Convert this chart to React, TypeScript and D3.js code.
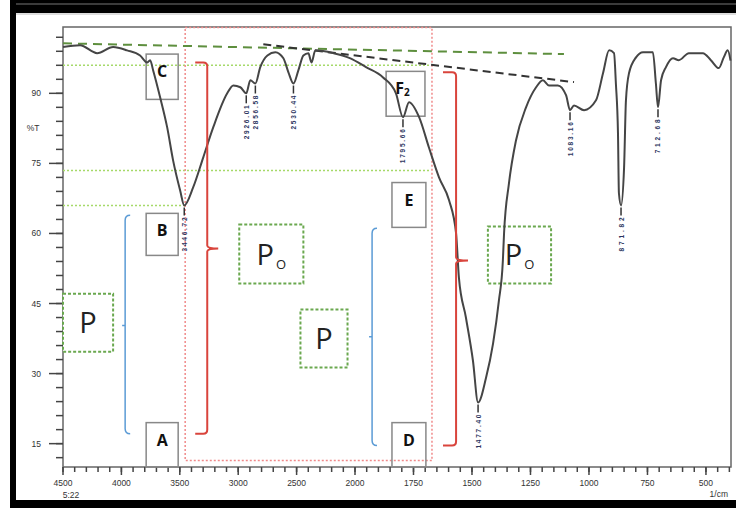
import * as d3 from "d3";

// FTIR spectrum: wavenumber (1/cm) and transmittance (%T)
const waves = [
  4500, 4354, 4208, 4071, 3951, 3840, 3780, 3754, 3728, 3668, 3608, 3557, 3497, 3462,
  3385, 3299, 3214, 3094, 3042, 2982, 2931, 2896, 2853, 2811, 2750, 2682, 2613, 2570,
  2527, 2485, 2442, 2399, 2373, 2339, 2184, 2039, 1953, 1880, 1825, 1795, 1769, 1726,
  1684, 1641, 1598, 1568, 1556, 1526, 1496, 1474, 1440, 1410, 1385, 1368, 1363, 1342,
  1312, 1269, 1226, 1197, 1171, 1133, 1098, 1081, 1064, 1021, 970, 940, 914, 893, 885,
  876, 872, 863, 850, 842, 829, 799, 769, 727, 714, 705, 692, 671, 641, 616, 573, 513,
  479, 445, 424, 407, 395,
];
const trans = [
  99.9, 100.3, 98.6, 99.9, 99.2, 98.1, 96.6, 97.1, 94.9, 89.1, 82.7, 75.6, 69.2, 66.0,
  69.9, 76.3, 82.7, 90.0, 91.7, 91.3, 90.0, 92.8, 92.1, 95.6, 98.1, 98.8, 97.5, 94.5,
  92.1, 94.9, 98.1, 98.6, 96.6, 99.2, 98.6, 97.5, 95.6, 93.4, 90.0, 84.9, 88.1, 84.9,
  78.4, 72.0, 67.1, 60.0, 50.6, 42.0, 32.8, 23.8, 29.1, 36.4, 45.6, 54.2, 60.0, 70.7,
  79.9, 87.0, 91.3, 92.8, 91.7, 91.7, 89.6, 86.4, 87.4, 86.4, 88.5, 94.3, 99.2, 98.6, 92.1,
  81.4, 68.6, 66.0, 74.1, 88.5, 94.3, 97.7, 98.8, 98.8, 92.1, 87.0, 92.8, 95.6, 97.5, 97.1, 98.6,
  98.6, 97.1, 95.4, 97.7, 99.2, 97.0,
];

// picked peaks
const peakWaves = [3462, 2931, 2853, 2527, 1795, 1474, 1081, 863, 705];
const peakLabels = ["3446.72", "2926.01", "2856.58", "2530.44", "1795.66", "1477.40", "1083.16", "871.82", "712.68"];

// axis ticks
const xMajor = [4500, 4000, 3500, 3000, 2500, 2000, 1750, 1500, 1250, 1000, 750, 500];
const yMajor = [15, 30, 45, 60, 75, 90];

// annotations (in wavenumber / %T units)
const letterBoxes = [
  { label: "C", w0: 3788, w1: 3514, t0: 98.4, t1: 88.7 },
  { label: "B", w0: 3788, w1: 3514, t0: 64.3, t1: 55.3 },
  { label: "A", w0: 3788, w1: 3514, t0: 19.5, t1: 10 },
  { label: "F", sub: "2", w0: 1867, w1: 1701, t0: 94.7, t1: 85.1 },
  { label: "E", w0: 1842, w1: 1697, t0: 70.9, t1: 61.3 },
  { label: "D", w0: 1842, w1: 1697, t0: 19.5, t1: 10 },
];
const pBoxes = [
  { label: "P", sub: "", w0: 4500, w1: 4071, t0: 47.1, t1: 34.7 },
  { label: "P", sub: "O", w0: 2991, w1: 2442, t0: 61.9, t1: 49.3 },
  { label: "P", sub: "", w0: 2467, w1: 2064, t0: 43.7, t1: 31.3 },
  { label: "P", sub: "O", w0: 1432, w1: 1162, t0: 61.5, t1: 49.3 },
];
const guideLevels = [
  { t: 96.0, w1: 1675 },
  { t: 73.5, w1: 1675 },
  { t: 66.0, w1: 3462 },
];
const redBraces = [
  { w0: 3368, wv: 3265, wn: 3171, t0: 96.6, tm: 56.8, t1: 17.1 },
  { w0: 1624, wv: 1568, wn: 1517, t0: 94.5, tm: 54.2, t1: 14.6 },
];
const blueBraces = [
  { wv: 3968, w1: 3925, t0: 63.9, tm: 40.3, t1: 17.1 },
  { wv: 1927, w1: 1906, t0: 61.1, tm: 37.9, t1: 14.6 },
];

export default function App() {
  const width = 736;
  const height = 508;

  // the instrument squeezes the scale above 2000 1/cm
  const x = d3.scaleLinear().domain([4500, 2000, 393]).range([63, 355, 731]);
  const y = d3.scaleLinear().domain([10, 104.2]).range([467, 27]);

  const pts = waves.map((w, i) => [w, trans[i]]);
  const line = d3
    .line()
    .x((d) => x(d[0]))
    .y((d) => y(d[1]))
    .curve(d3.curveMonotoneX);

  const xMinor = [...d3.range(4500, 2000, -100), ...d3.range(2000, 393, -50)];
  const yMinor = d3.range(12, 104, 3);

  const font = "'Liberation Sans', Arial, sans-serif";
  const bigFont = "'Open Sans', 'Noto Sans', sans-serif";

  const nearest = (w) => d3.minIndex(waves, (v) => Math.abs(v - w));

  const bracePathRed = (b) => {
    const x0 = x(b.w0), xv = x(b.wv), xn = x(b.wn);
    const y0 = y(b.t0), ym = y(b.tm), y1 = y(b.t1);
    return `M${x0},${y0} H${xv - 4} Q${xv},${y0} ${xv},${y0 + 4} V${ym - 3} Q${xv},${ym} ${xn},${ym} M${xv},${ym + 3} Q${xv},${ym} ${xn},${ym} M${xv},${ym + 3} V${y1 - 4} Q${xv},${y1} ${xv - 4},${y1} H${x0}`;
  };
  const bracePathBlue = (b) => {
    const xv = x(b.wv), x1 = x(b.w1);
    const y0 = y(b.t0), ym = y(b.tm), y1 = y(b.t1);
    return `M${x1},${y0} Q${xv},${y0} ${xv},${y0 + 5} V${y1 - 5} Q${xv},${y1} ${x1},${y1} M${xv},${ym} h-3`;
  };

  return (
    <svg
      width={width}
      height={height}
      style={{ position: "absolute", left: 0, top: 0, background: "#fff" }}
    >
      {/* outer frame */}
      <rect x={10} y={0} width={726} height={13} fill="#000" />
      <line x1={10} x2={736} y1={4} y2={4} stroke="#777" strokeWidth={1} />
      <rect x={10} y={0} width={6} height={508} fill="#000" />
      <rect x={10} y={500} width={726} height={8} fill="#000" />
      <line x1={16} x2={736} y1={14} y2={14} stroke="#bbb" strokeWidth={1} />

      {/* plot border */}
      <rect x={63} y={27} width={668} height={440} fill="none" stroke="#666" strokeWidth={1.5} />

      {/* y axis */}
      {yMinor.map((t) => (
        <line key={"ym" + t} x1={56} x2={63} y1={y(t)} y2={y(t)} stroke="#444" strokeWidth={1.5} />
      ))}
      {yMajor.map((t) => (
        <g key={"yM" + t}>
          <line x1={49} x2={63} y1={y(t)} y2={y(t)} stroke="#444" strokeWidth={1.5} />
          <text x={41} y={y(t) + 3} fontSize={8.5} fontFamily={font} fill="#333" textAnchor="end">
            {t}
          </text>
        </g>
      ))}
      <text x={33} y={131} fontSize={8.5} fontFamily={font} fill="#333" textAnchor="middle">
        %T
      </text>

      {/* x axis */}
      {xMinor.map((w) => (
        <line key={"xm" + w} x1={x(w)} x2={x(w)} y1={467} y2={472} stroke="#444" strokeWidth={1.5} />
      ))}
      {xMajor.map((w) => (
        <g key={"xM" + w}>
          <line x1={x(w)} x2={x(w)} y1={467} y2={475} stroke="#444" strokeWidth={1.5} />
          <text x={x(w)} y={486} fontSize={8.5} fontFamily={font} fill="#333" textAnchor="middle">
            {w}
          </text>
        </g>
      ))}
      <text x={71} y={498} fontSize={8.5} fontFamily={font} fill="#333" textAnchor="middle">
        5:22
      </text>
      <text x={728} y={497} fontSize={8.5} fontFamily={font} fill="#333" textAnchor="end">
        1/cm
      </text>

      {/* light green guide levels */}
      {guideLevels.map((g, i) => (
        <line
          key={"g" + i}
          x1={x(4500)}
          x2={x(g.w1)}
          y1={y(g.t)}
          y2={y(g.t)}
          stroke="#a6d96a"
          strokeWidth={1.5}
          strokeDasharray="2 2"
        />
      ))}

      {/* red dotted region */}
      <rect
        x={x(3454)}
        y={y(104.1)}
        width={x(1671) - x(3454)}
        height={y(11.4) - y(104.1)}
        fill="none"
        stroke="#f08a8a"
        strokeWidth={1.5}
        strokeDasharray="2 2"
      />

      {/* baselines */}
      <line
        x1={x(4500)} y1={y(100.7)} x2={x(1107)} y2={y(98.4)}
        stroke="#5e8f3e" strokeWidth={2} strokeDasharray="9 6"
      />
      <line
        x1={x(2785)} y1={y(100.5)} x2={x(1064)} y2={y(92.4)}
        stroke="#333" strokeWidth={2} strokeDasharray="8 5"
      />

      {/* gray letter boxes */}
      {letterBoxes.map((b) => {
        const cx = (x(b.w0) + x(b.w1)) / 2;
        return (
          <g key={b.label}>
            <rect
              x={x(b.w0)}
              y={y(b.t0)}
              width={x(b.w1) - x(b.w0)}
              height={y(b.t1) - y(b.t0)}
              fill="none"
              stroke="#888"
              strokeWidth={1.5}
            />
            <text
              x={b.sub ? cx - 3 : cx}
              y={y(b.t0) + 23}
              fontSize={16}
              fontWeight="bold"
              fontFamily={bigFont}
              fill="#111"
              textAnchor="middle"
            >
              {b.label}
              {b.sub ? (
                <tspan fontSize={10} dy={2}>
                  {b.sub}
                </tspan>
              ) : null}
            </text>
          </g>
        );
      })}

      {/* green dotted P boxes */}
      {pBoxes.map((b, i) => {
        const cx = (x(b.w0) + x(b.w1)) / 2;
        const cy = (y(b.t0) + y(b.t1)) / 2;
        return (
          <g key={"p" + i}>
            <rect
              x={x(b.w0)}
              y={y(b.t0)}
              width={x(b.w1) - x(b.w0)}
              height={y(b.t1) - y(b.t0)}
              fill="#fff"
              stroke="#6aa84f"
              strokeWidth={2}
              strokeDasharray="3 2"
            />
            <text
              x={cx}
              y={cy + 10.5}
              fontSize={29}
              fontFamily={bigFont}
              fill="#222"
              textAnchor="middle"
            >
              {b.label}
              {b.sub ? (
                <tspan fontSize={13} dx={2} dy={4}>
                  {b.sub}
                </tspan>
              ) : null}
            </text>
          </g>
        );
      })}

      {/* spectrum */}
      <path d={line(pts)} fill="none" stroke="#454545" strokeWidth={2} />

      {/* peak picks */}
      {peakWaves.map((w, i) => {
        const k = nearest(w);
        const px = x(waves[k]);
        const py = y(trans[k]);
        return (
          <g key={"pk" + i}>
            <line x1={px} x2={px} y1={py + 2} y2={py + 10} stroke="#333" strokeWidth={1.5} />
            <text
              transform={`translate(${px + 2.5},${py + 12}) rotate(-90)`}
              fontSize={6.5}
              fontWeight="bold"
              fontFamily={font}
              fill="#2c3560"
              textAnchor="end"
              textLength={34}
              lengthAdjust="spacing"
            >
              {peakLabels[i]}
            </text>
          </g>
        );
      })}

      {/* braces */}
      {redBraces.map((b, i) => (
        <path key={"rb" + i} d={bracePathRed(b)} fill="none" stroke="#d9443c" strokeWidth={2} />
      ))}
      {blueBraces.map((b, i) => (
        <path key={"bb" + i} d={bracePathBlue(b)} fill="none" stroke="#5b9bd5" strokeWidth={1.5} />
      ))}
    </svg>
  );
}
